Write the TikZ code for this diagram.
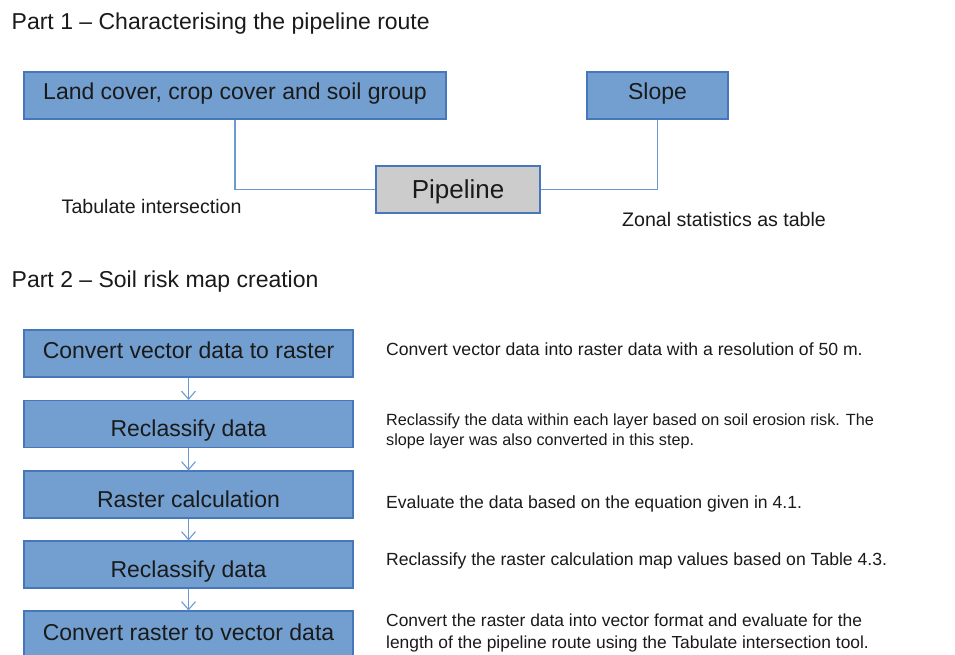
\documentclass[tikz,border=0pt]{standalone}
\usepackage{fontspec}
\setmainfont{Liberation Sans}
\usetikzlibrary{arrows.meta}
\definecolor{boxfill}{HTML}{729FCF}
\definecolor{boxline}{HTML}{4677BA}
\definecolor{conn}{HTML}{6B9AD2}
\definecolor{grayfill}{HTML}{CCCCCC}
\definecolor{ink}{HTML}{1A1A1A}
\tikzset{
  box/.style={draw=boxline, line width=1.1pt, fill=boxfill, inner sep=0pt,
    minimum height=47pt, text height=16.5pt, text depth=0pt, text=ink,
    font=\fontsize{23}{27}\selectfont},
  graybox/.style={box, fill=grayfill, text height=18.6pt, font=\fontsize{26}{30}\selectfont},
  wire/.style={draw=conn, line width=1.2pt},
  flow/.style={draw=conn, line width=1pt, -{Straight Barb[length=8pt,width=14pt,line width=1.1pt]}},
  title/.style={anchor=base west, inner sep=0pt, text=ink, font=\fontsize{23}{27}\selectfont},
  tool/.style={anchor=base west, inner sep=0pt, text=ink, font=\fontsize{19.6}{23}\selectfont},
  desc/.style={anchor=base west, inner sep=0pt, text=ink, font=\fontsize{17.6}{21}\selectfont},
  descsmall/.style={desc, font=\fontsize{16.2}{20}\selectfont}
}
\begin{document}
\begin{tikzpicture}[x=1pt, y=-1pt]
\useasboundingbox (0,0) rectangle (955,655);
\fill[white] (0,0) rectangle (955,655);

% Part 1
\node[title] (t1) at (11.5,29.3) {Part 1 -- Characterising the pipeline route};
\node[box, minimum width=422pt] (lc) at (235,95.5) {\raisebox{4pt}{Land cover, crop cover and soil group}};
\node[box, minimum width=141pt] (slope) at (657.5,95.5) {\raisebox{4pt}{Slope}};
\node[graybox, minimum width=164pt] (pipe) at (458,189.5) {Pipeline};
\draw[wire] (lc.south) |- (pipe.west);
\draw[wire] (slope.south) |- (pipe.east);
\node[tool] (tab) at (61.5,213.3) {Tabulate intersection};
\node[tool] (zon) at (622,226.7) {Zonal statistics as table};

% Part 2
\node[title] (t2) at (11.5,287) {Part 2 -- Soil risk map creation};
\node[box, minimum width=329pt] (b1) at (188.5,353.5) {\raisebox{3pt}{Convert vector data to raster}};
\node[box, minimum width=329pt] (b2) at (188.5,424) {\raisebox{-4.3pt}{Reclassify data}};
\node[box, minimum width=329pt] (b3) at (188.5,494.5) {\raisebox{-5pt}{Raster calculation}};
\node[box, minimum width=329pt] (b4) at (188.5,564.5) {\raisebox{-5pt}{Reclassify data}};
\node[box, minimum width=329pt] (b5) at (188.5,634.5) {\raisebox{2.5pt}{Convert raster to vector data}};
\draw[flow] (b1.south) -- (b2.north);
\draw[flow] (b2.south) -- (b3.north);
\draw[flow] (b3.south) -- (b4.north);
\draw[flow] (b4.south) -- (b5.north);

\node[desc] (d1) at (386,355) {Convert vector data into raster data with a resolution of 50 m.};
\node[descsmall] (d2a) at (386,425) {Reclassify the data within each layer based on soil erosion risk. The};
\node[descsmall] (d2b) at (386,445) {slope layer was also converted in this step.};
\node[desc] (d3) at (386,508.3) {Evaluate the data based on the equation given in 4.1.};
\node[desc] (d4) at (386,565) {Reclassify the raster calculation map values based on Table 4.3.};
\node[desc, font=\fontsize{17.4}{21}\selectfont] (d5a) at (386,626.7) {Convert the raster data into vector format and evaluate for the};
\node[desc, font=\fontsize{17.4}{21}\selectfont] (d5b) at (386,648.3) {length of the pipeline route using the Tabulate intersection tool.};
\end{tikzpicture}
\end{document}
